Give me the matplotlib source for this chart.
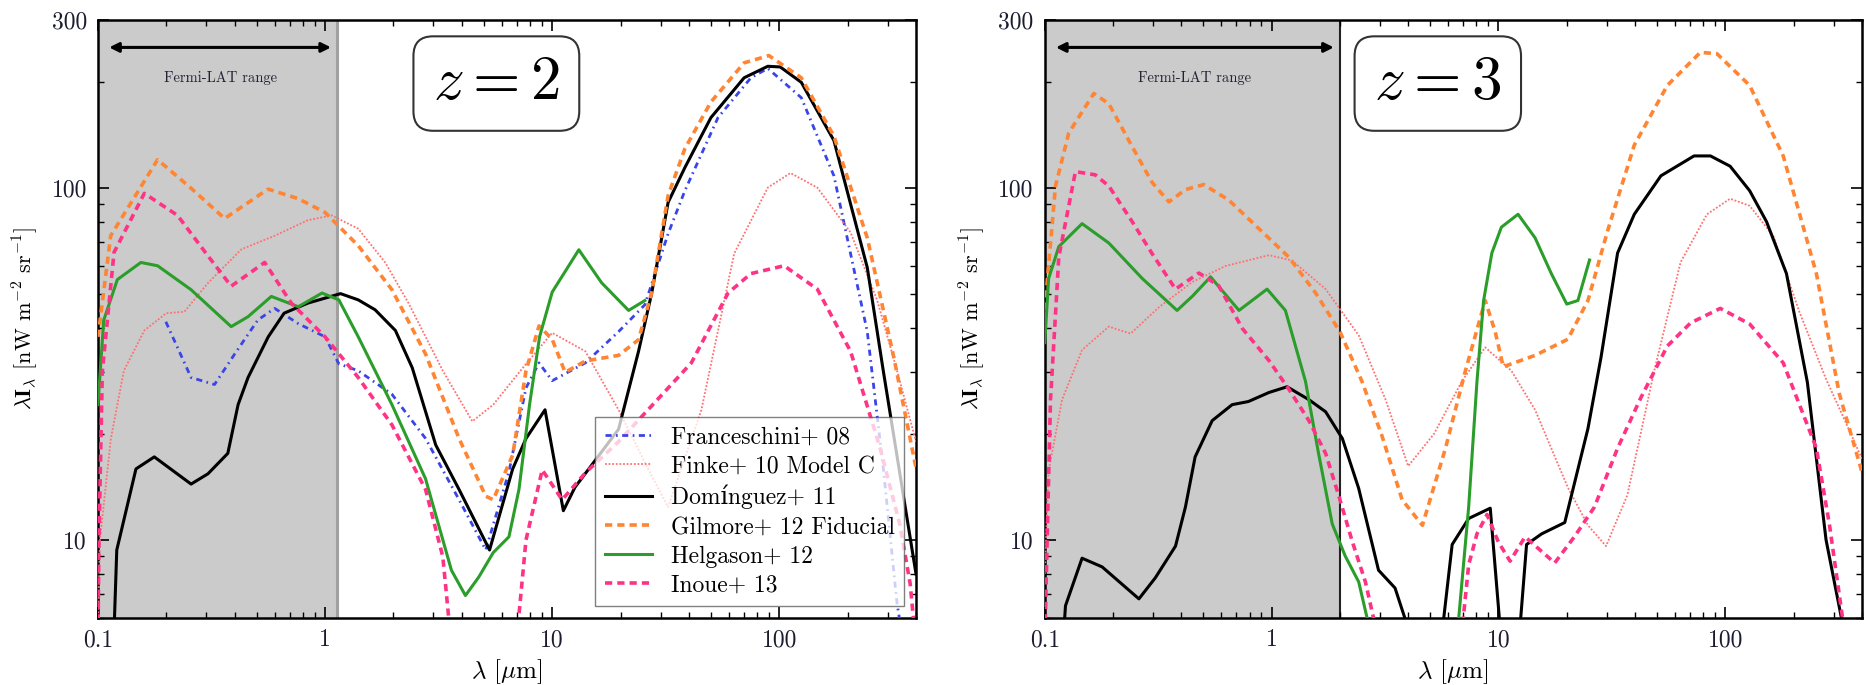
import numpy as np
import matplotlib
matplotlib.use("Agg")
import matplotlib.pyplot as plt
from matplotlib.ticker import FixedLocator, NullFormatter

plt.rcParams['font.family'] = ['cmr10', 'DejaVu Serif']
plt.rcParams['mathtext.fontset'] = 'cm'
plt.rcParams['axes.unicode_minus'] = False
plt.rcParams['axes.formatter.use_mathtext'] = True

# ---------------- z = 2 ----------------
lam_fra2 = [0.199, 0.257, 0.326, 0.40, 0.506, 0.60, 0.762, 1.0, 1.15, 1.4, 1.97, 2.77, 3.89, 5.1, 6.45,
            7.67, 8.75, 10.0, 14.0, 19.6, 25.6, 32.4, 38.4, 53.7, 75, 89, 125, 174, 244, 287, 330, 400]
val_fra2 = [41.6, 28.9, 27.6, 33.7, 42.1, 45.4, 41.1, 37.7, 31.6, 30.2, 25.9, 19.4, 13.0, 9.36, 15.6,
            27.0, 31.8, 28.3, 31.8, 39.0, 46.5, 74, 98, 158, 205, 218, 180, 108, 39, 16, 6.6, 3.0]

lam_fin2 = [0.1, 0.102, 0.114, 0.130, 0.16, 0.20, 0.24, 0.305, 0.428, 0.60, 0.84, 1.07, 1.4, 1.84, 2.33,
            3.3, 4.45, 5.5, 7.67, 10.0, 14, 19.6, 27.4, 32.4, 45.4, 63.3, 89, 112, 147, 206, 270, 330, 400]
val_fin2 = [5.5, 10, 19.4, 30.2, 39.3, 44, 44.4, 53.6, 66.8, 73, 80.8, 83.4, 76.4, 61.3, 47,
            30.2, 21.7, 24.2, 31.6, 38.7, 34.3, 23.4, 15.2, 12.4, 23.4, 65, 100, 110, 100, 74.6, 47.8, 30.2, 19]

lam_dom2 = [0.1177, 0.121, 0.147, 0.177, 0.257, 0.305, 0.373, 0.414, 0.458, 0.562, 0.66, 0.84, 1.17, 1.4,
            1.66, 2.04, 2.42, 3.07, 3.89, 5.3, 6.7, 7.67, 9.3, 11.2, 12.6, 19.6, 24, 27.4, 32.4, 38.4, 50,
            70, 89, 101, 125, 174, 244, 287, 400]
val_dom2 = [5.5, 9.36, 15.9, 17.2, 14.4, 15.4, 17.6, 24.2, 28.9, 37.7, 44, 47, 50, 48,
            45, 39.3, 30.8, 18.6, 13.9, 9.36, 15.9, 19.4, 23.4, 12.1, 14.1, 20.6, 34.3, 50, 90.8, 114, 158,
            205, 221, 220, 199, 136, 59.3, 30.2, 8.0]

lam_gil2 = [0.1, 0.1138, 0.183, 0.257, 0.361, 0.561, 0.762, 1.0, 1.40, 1.97, 2.77, 3.89, 5.1, 5.5, 6.7,
            7.67, 8.75, 10, 11.4, 14, 19.6, 24, 27.4, 32.4, 38.4, 50, 70, 90, 125, 174, 244, 318, 400]
val_gil2 = [37.7, 73, 120, 99.6, 81.7, 99, 93, 85, 68.4, 51.3, 33.7, 19.4, 13.3, 13.0, 17.4,
            30.2, 40.5, 37.1, 29.9, 32.2, 33.4, 37, 50.2, 95, 129, 175, 226, 237, 205, 140, 72, 33.4, 16]

lam_hel2 = [0.1, 0.106, 0.1217, 0.1545, 0.183, 0.257, 0.386, 0.458, 0.58, 0.762, 0.97, 1.15, 1.4, 1.97,
            2.77, 3.6, 4.15, 4.75, 5.5, 6.45, 7.14, 7.95, 8.8, 10, 13.1, 16.5, 21.7, 25.6]
val_hel2 = [24.2, 42, 54.8, 61.3, 60, 51.3, 40.3, 43, 49.1, 45.9, 50.2, 48, 37.7, 24.2,
            14.9, 8.2, 6.95, 7.84, 9.2, 10.2, 13.9, 24.2, 37.7, 50.5, 66.6, 53.7, 44.8, 47.8]

lam_ino2 = [0.1, 0.101, 0.1045, 0.1177, 0.16, 0.224, 0.305, 0.386, 0.542, 0.71, 1.0, 1.4, 1.97, 2.77, 3.3,
            3.6, 6.93, 7.67, 9.04, 11.06, 14, 19.6, 27.4, 41, 59.5, 75, 105, 147, 206, 278, 340, 377, 400]
val_ino2 = [5.0, 10, 30, 65.5, 96.3, 83.4, 64, 52.5, 61.3, 47, 37.7, 28.9, 21.2, 13.9, 8.95,
            5.0, 5.0, 10, 15.8, 13.0, 15.5, 19, 24, 31.8, 50.2, 57, 60, 51.5, 34.3, 18.2, 11, 7.5, 5.0]

# ---------------- z = 3 ----------------
lam_fin3 = [0.1, 0.104, 0.1192, 0.146, 0.1916, 0.239, 0.318, 0.448, 0.626, 0.973, 1.23, 1.73, 2.42, 3.18,
            4.0, 5.2, 6.9, 8.74, 11.4, 14.5, 20.2, 24.8, 29.8, 37, 48.6, 63.5, 83, 105, 128, 163, 212,
            278, 354, 400]
val_fin3 = [8, 15.7, 25, 34.6, 40.3, 38.5, 45.7, 54, 59.9, 64.3, 62.1, 51.5, 38.1, 25,
            16.2, 20, 28.2, 35.2, 30.2, 23.4, 14.1, 11.0, 9.6, 13.4, 30.2, 61.4, 84, 93, 88.8, 72.8, 44.4,
            28.6, 20.3, 17]

lam_dom3 = [0.1213, 0.1234, 0.146, 0.179, 0.26, 0.307, 0.377, 0.417, 0.46, 0.547, 0.67, 0.79, 0.973, 1.17,
            1.46, 1.73, 2.05, 2.42, 2.96, 3.5, 4.04, 5.65, 6.25, 7.39, 9.2, 10.2, 12.4, 13.3, 15.5, 19.6,
            24.8, 28.3, 33.5, 39.7, 52, 72.8, 86, 105, 128, 152, 186, 230, 278, 325, 340]
val_dom3 = [5.5, 6.5, 8.87, 8.38, 6.8, 7.8, 9.6, 12.4, 17.2, 21.8, 24.2, 24.7, 26.2, 27.2,
            25, 23.1, 19.4, 14.0, 8.2, 7.3, 5.5, 5.5, 9.7, 11.5, 12.3, 5.5, 5.5, 9.7, 10.4, 11.2,
            20.7, 32.9, 65.2, 84, 108, 123, 123, 115, 98, 80, 57, 28, 10, 6, 5]

lam_gil3 = [0.1, 0.1115, 0.1276, 0.1645, 0.1916, 0.243, 0.297, 0.3526, 0.417, 0.502, 0.647, 0.878, 1.19,
            1.56, 2.0, 2.5, 3.06, 3.76, 4.62, 5.84, 7.15, 8.74, 9.67, 10.5, 14.5, 20.2, 24.8, 30.3, 39.7,
            55.5, 77.6, 91.8, 128, 180, 252, 318, 400]
val_gil3 = [45, 101, 143, 185, 173, 130.6, 103.5, 91.1, 98.7, 102, 92.2, 76.5, 63.5,
            50.3, 39, 28.2, 19.8, 13, 11, 18.2, 30.2, 47.8, 39, 31, 33.4, 37.1, 47.8, 75.5, 132,
            195, 242, 240, 195, 123, 57, 26, 15.6]

lam_hel3 = [0.1, 0.104, 0.1153, 0.146, 0.1916, 0.269, 0.383, 0.448, 0.538, 0.718, 0.955, 1.15, 1.41, 1.61,
            1.85, 2.11, 2.42, 2.72, 6.6, 7.39, 8.04, 8.6, 9.35, 10.3, 12.2, 14.5, 17.1, 20, 22.4, 25.2]
val_hel3 = [36.3, 55.2, 68, 79, 69.6, 55.2, 44.8, 49.2, 55.8, 44.8, 51.5, 44.8, 28.2, 17.6,
            11.1, 9, 7.6, 5.5, 5.5, 12.4, 28.2, 47.8, 65.2, 77.2, 84, 72, 57, 46.7, 47.8, 62.3]

lam_ino3 = [0.1, 0.1024, 0.106, 0.1153, 0.1365, 0.167, 0.1916, 0.243, 0.297, 0.377, 0.478, 0.584, 0.743,
            0.973, 1.19, 1.46, 1.73, 1.98, 2.27, 2.59, 2.9, 6.9, 7.39, 8.04, 8.9, 10, 11.25, 13.1, 17.7,
            21.6, 26.5, 33.5, 42.4, 55.5, 70.3, 95, 128, 180, 252, 288, 335]
val_ino3 = [5.0, 9.9, 25, 63.5, 111, 108.7, 101, 80, 65, 51.5, 57.2, 52.7, 39.8,
            32.3, 26.8, 21.8, 17.6, 13.3, 9.87, 7.6, 5.5, 5.5, 8.5, 10.4, 11.8, 9.85, 8.7, 10.2, 8.6,
            10.2, 12.4, 18.2, 25.3, 35.5, 41.3, 45.4, 41, 31.8, 18.2, 11.0, 5.5]

labels = ['Franceschini+ 08', 'Finke+ 10 Model C', 'Domínguez+ 11',
          'Gilmore+ 12 Fiducial', 'Helgason+ 12', 'Inoue+ 13']
fermi_edge = [1.13, 2.0]
zlabels = [r'$z=2$', r'$z=3$']

styles = [
    dict(color='#3a45e8', lw=2.0, ls=(0, (2.2, 1.6, 0.6, 1.6))),
    dict(color='#ff7070', lw=1.3, ls=(0, (1, 1))),
    dict(color='black', lw=2.2, ls='-'),
    dict(color='#ff8533', lw=2.6, ls=(0, (2, 1.4))),
    dict(color='#2a9d2a', lw=2.2, ls='-'),
    dict(color='#ff3385', lw=2.6, ls=(0, (2, 1.4))),
]

fig = plt.figure(figsize=(18.66, 6.85), dpi=100)
ax1 = fig.add_axes([0.0525, 0.0978, 0.4384, 0.8737])
ax2 = fig.add_axes([0.5599, 0.0978, 0.4379, 0.8737])

data2 = [(lam_fra2, val_fra2), (lam_fin2, val_fin2), (lam_dom2, val_dom2),
         (lam_gil2, val_gil2), (lam_hel2, val_hel2), (lam_ino2, val_ino2)]
data3 = [None, (lam_fin3, val_fin3), (lam_dom3, val_dom3),
         (lam_gil3, val_gil3), (lam_hel3, val_hel3), (lam_ino3, val_ino3)]

for i, (ax, data) in enumerate([(ax1, data2), (ax2, data3)]):
    ax.set_xscale('log')
    ax.set_yscale('log')
    ax.axvspan(0.1, fermi_edge[i], color='#cbcbcb', zorder=0, lw=0)
    if i == 0:
        ax.axvline(fermi_edge[i], color='#a0a0a0', lw=2.2, zorder=1)
    else:
        ax.axvline(fermi_edge[i], color='#222222', lw=1.5, zorder=1)
    for j, d in enumerate(data):
        if d is None:
            continue
        ax.plot(d[0], d[1], label=labels[j], zorder=3, **styles[j])
    ax.set_xlim(0.1, 400)
    ax.set_ylim(6, 300)

    ax.annotate('', xy=(0.112, 250), xytext=(fermi_edge[i] * 0.94, 250),
                arrowprops=dict(arrowstyle='<|-|>', lw=2.2, color='black',
                                mutation_scale=14, shrinkA=0, shrinkB=0))
    xm = np.sqrt(0.112 * fermi_edge[i] * 0.94)
    ax.text(xm, 205, 'Fermi-LAT range', ha='center', va='center', fontsize=10.5, color='#222233')

    ax.text([0.487, 0.481][i], 0.893, zlabels[i], transform=ax.transAxes, ha='center', va='center',
            fontsize=44, zorder=6,
            bbox=dict(boxstyle='round,pad=0.32', fc='white', ec='#333333', lw=1.5))

    ax.xaxis.set_major_locator(FixedLocator([0.1, 1, 10, 100]))
    ax.set_xticklabels(['0.1', '1', '10', '100'])
    ax.yaxis.set_major_locator(FixedLocator([10, 100, 300]))
    ax.set_yticklabels(['10', '100', '300'])
    ax.xaxis.set_minor_formatter(NullFormatter())
    ax.yaxis.set_minor_formatter(NullFormatter())
    ax.tick_params(which='both', direction='in', top=True, right=True, labelsize=17,
                   labelcolor='#1c1c30')
    ax.tick_params(which='major', length=8, width=1.2, pad=8)
    ax.tick_params(which='minor', length=4, width=1.0)
    for s in ax.spines.values():
        s.set_linewidth(1.8)

    ax.set_xlabel(r'$\lambda$ [$\mu$m]', fontsize=18, labelpad=4)
    ax.set_ylabel(r'$\mathbf{\lambda I_{\lambda}}$ [nW m$^{-2}$ sr$^{-1}$]', fontsize=16, labelpad=8)

leg = ax1.legend(loc='lower right', fontsize=17, frameon=True, fancybox=False, framealpha=0.75,
                 edgecolor='#555555', labelspacing=0.3, borderaxespad=0.5, handlelength=2.0)
leg.get_frame().set_linewidth(1.0)
leg.set_zorder(5)

fig.savefig('out.png', dpi=100)
